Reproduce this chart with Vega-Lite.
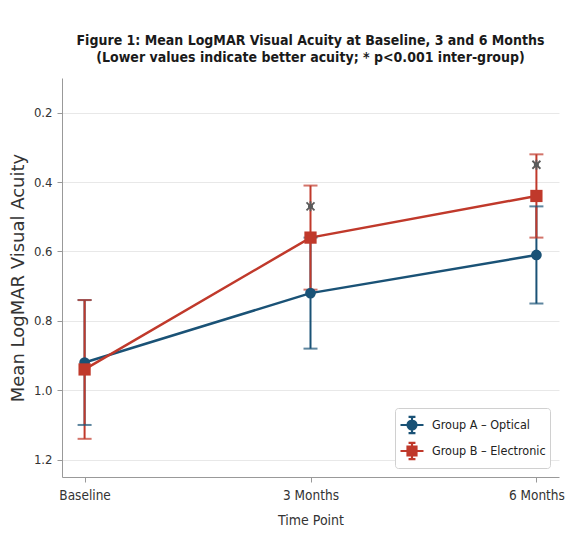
{
  "$schema": "https://vega.github.io/schema/vega-lite/v6.json",
  "width": 497,
  "height": 399,
  "autosize": "none",
  "padding": {"left": 62, "top": 78, "right": 11, "bottom": 61},
  "background": "white",
  "title": {
    "text": ["Figure 1: Mean LogMAR Visual Acuity at Baseline, 3 and 6 Months", "(Lower values indicate better acuity; * p<0.001 inter-group)"],
    "font": "DejaVu Sans Condensed",
    "fontWeight": "bold",
    "fontSize": 14,
    "lineHeight": 17,
    "color": "#1a1a1a",
    "anchor": "middle",
    "offset": 13
  },
  "datasets": {
    "groups": [
      {"group": "Group A – Optical", "time": "Baseline", "mean": 0.92, "lo": 0.74, "hi": 1.10},
      {"group": "Group A – Optical", "time": "3 Months", "mean": 0.72, "lo": 0.56, "hi": 0.88},
      {"group": "Group A – Optical", "time": "6 Months", "mean": 0.61, "lo": 0.47, "hi": 0.75},
      {"group": "Group B – Electronic", "time": "Baseline", "mean": 0.94, "lo": 0.74, "hi": 1.14},
      {"group": "Group B – Electronic", "time": "3 Months", "mean": 0.56, "lo": 0.41, "hi": 0.71},
      {"group": "Group B – Electronic", "time": "6 Months", "mean": 0.44, "lo": 0.32, "hi": 0.56}
    ],
    "stars": [
      {"time": "3 Months", "value": 0.47},
      {"time": "6 Months", "value": 0.35}
    ]
  },
  "data": {"name": "groups"},
  "encoding": {
    "x": {
      "field": "time", "type": "ordinal",
      "sort": ["Baseline", "3 Months", "6 Months"],
      "scale": {"type": "point", "padding": 0.1},
      "axis": {
        "title": "Time Point", "labelAngle": 0, "grid": false,
        "labelFont": "DejaVu Sans Condensed", "labelFontSize": 13.5, "labelColor": "#333",
        "titleFont": "DejaVu Sans Condensed", "titleFontSize": 14, "titleColor": "#333", "titleFontWeight": "normal",
        "titlePadding": 12, "labelPadding": 6,
        "domainColor": "#999", "tickColor": "#999", "tickSize": 5
      }
    }
  },
  "layer": [
    {
      "mark": {"type": "line", "strokeWidth": 2.5},
      "encoding": {
        "y": {
          "field": "mean", "type": "quantitative",
          "scale": {"domain": [0.1, 1.25], "reverse": true, "zero": false, "nice": false},
          "axis": {
            "title": "Mean LogMAR Visual Acuity", "values": [0.2, 0.4, 0.6, 0.8, 1.0, 1.2], "format": ".1f",
            "labelFont": "DejaVu Sans Condensed", "labelFontSize": 13, "labelColor": "#333",
            "titleFont": "DejaVu Sans", "titleFontSize": 18, "titleColor": "#333", "titleFontWeight": "normal",
            "titlePadding": 6, "labelPadding": 5,
            "gridColor": "#e8e8e8", "domainColor": "#999", "tickColor": "#999", "tickSize": 5
          }
        },
        "color": {"field": "group", "type": "nominal", "scale": {"range": ["#1a5276", "#c0392b"]}, "legend": null}
      }
    },
    {
      "mark": {"type": "rule", "strokeWidth": 2},
      "encoding": {
        "y": {"field": "lo", "type": "quantitative"},
        "y2": {"field": "hi"},
        "color": {"field": "group", "type": "nominal", "legend": null}
      }
    },
    {
      "mark": {"type": "tick", "orient": "horizontal", "size": 14, "thickness": 2},
      "encoding": {
        "y": {"field": "lo", "type": "quantitative"},
        "color": {"field": "group", "type": "nominal", "legend": null}
      }
    },
    {
      "mark": {"type": "tick", "orient": "horizontal", "size": 14, "thickness": 2},
      "encoding": {
        "y": {"field": "hi", "type": "quantitative"},
        "color": {"field": "group", "type": "nominal", "legend": null}
      }
    },
    {
      "transform": [{"filter": "datum.group === 'Group A – Optical'"}],
      "mark": {"type": "point", "filled": true, "shape": "circle", "size": 115, "opacity": 1},
      "encoding": {
        "y": {"field": "mean", "type": "quantitative"},
        "color": {"field": "group", "type": "nominal", "legend": null}
      }
    },
    {
      "transform": [{"filter": "datum.group === 'Group B – Electronic'"}],
      "mark": {"type": "point", "filled": true, "shape": "square", "size": 150, "opacity": 1},
      "encoding": {
        "y": {"field": "mean", "type": "quantitative"},
        "color": {"field": "group", "type": "nominal", "legend": null}
      }
    },
    {
      "data": {"name": "stars"},
      "mark": {"type": "point", "shape": "M-0.8,-0.8L0.8,0.8M-0.8,0.8L0.8,-0.8M0,-1V1M-0.5,0H0.5", "filled": false, "size": 100, "strokeWidth": 1.8, "color": "#5a5a5a", "opacity": 1},
      "encoding": {
        "x": {"field": "time", "type": "ordinal", "sort": ["Baseline", "3 Months", "6 Months"]},
        "y": {"field": "value", "type": "quantitative"}
      }
    },
    {
      "mark": {"type": "point", "opacity": 0, "size": 529, "strokeWidth": 2.2},
      "encoding": {
        "y": {"field": "mean", "type": "quantitative"},
        "fill": {"field": "group", "type": "nominal", "scale": {"range": ["#1a5276", "#c0392b"]}, "title": null},
        "stroke": {"field": "group", "type": "nominal", "scale": {"range": ["#1a5276", "#c0392b"]}, "title": null},
        "shape": {
          "field": "group", "type": "nominal", "title": null,
          "scale": {"range": [
            "M-1,0H1M0,-0.7V0.7M-0.3,-0.7H0.3M-0.3,0.7H0.3M0.39,0A0.39,0.39,0,1,1,-0.39,0A0.39,0.39,0,1,1,0.39,0Z",
            "M-1,0H1M0,-0.7V0.7M-0.3,-0.7H0.3M-0.3,0.7H0.3M-0.39,-0.39H0.39V0.39H-0.39Z"
          ]}
        }
      }
    }
  ],
  "config": {
    "view": {"stroke": null},
    "legend": {
      "orient": "bottom-right",
      "offset": 9,
      "symbolOpacity": 1,
      "symbolSize": 529,
      "symbolStrokeWidth": 2.2,
      "labelFont": "DejaVu Sans Condensed",
      "labelFontSize": 12.5,
      "labelColor": "#222",
      "labelOffset": 7,
      "rowPadding": 0,
      "padding": 4,
      "strokeColor": "#d0d0d0",
      "fillColor": "white",
      "cornerRadius": 3
    }
  }
}
